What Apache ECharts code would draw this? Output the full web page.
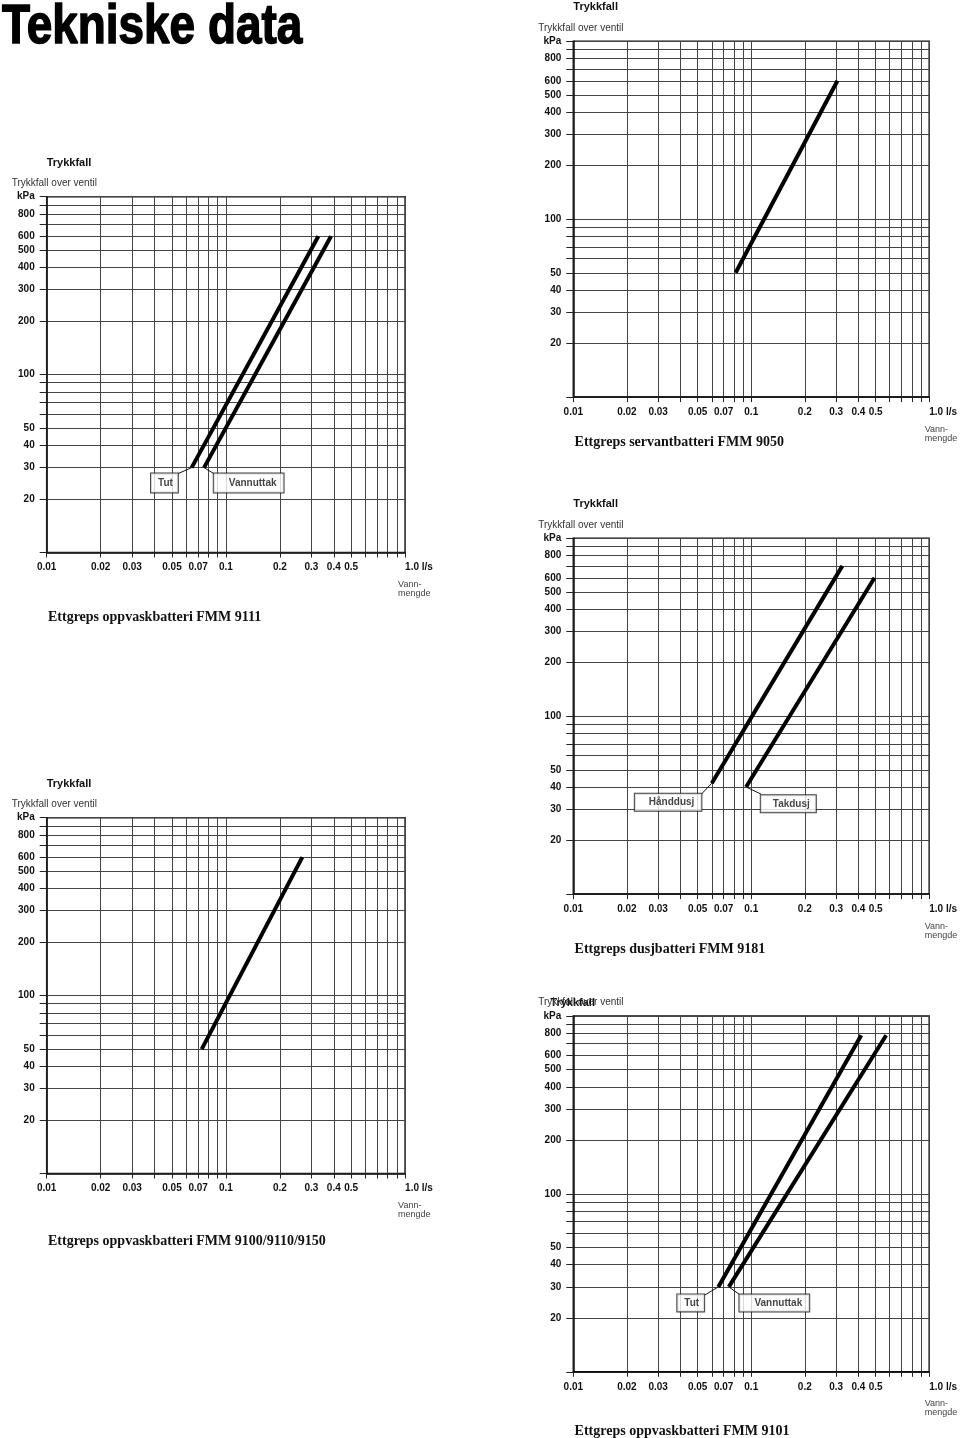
<!DOCTYPE html>
<html>
<head>
<meta charset="utf-8">
<title>Tekniske data</title>
<script src="https://cdn.jsdelivr.net/npm/echarts@6/dist/echarts.min.js"></script>
<style>
  html, body { margin: 0; padding: 0; background: #fff; }
  #chart { width: 960px; height: 1438px; }
</style>
</head>
<body>
<div id="chart"></div>
<script>
// grid / tick values: flow (l/s) and pressure drop (kPa), both log scales
const flowTicks = [0.01, 0.02, 0.03, 0.04, 0.05, 0.06, 0.07, 0.08, 0.09,
  0.1, 0.2, 0.3, 0.4, 0.5, 0.6, 0.7, 0.8, 0.9, 1.0];
const flowLabels = [0.01, 0.02, 0.03, 0.05, 0.07, 0.1, 0.2, 0.3, 0.4, 0.5, 1.0];
const pressureTicks = [10, 20, 30, 40, 50, 60, 70, 80, 90,
  100, 200, 300, 400, 500, 600, 700, 800, 900, 1000];
const pressureLabels = [20, 30, 40, 50, 100, 200, 300, 400, 500, 600, 800, 1000];

// curve ends, [flow l/s, pressure kPa]
const fmm9111Tut = [[0.0644, 30], [0.328, 600]];
const fmm9111Vannuttak = [[0.0755, 30], [0.386, 600]];
const fmm9050 = [[0.0817, 50], [0.305, 600]];
const fmm9181Handdusj = [[0.060, 42], [0.325, 700]];
const fmm9181Takdusj = [[0.0935, 40], [0.493, 600]];
const fmm9100 = [[0.0733, 50], [0.267, 600]];
const fmm9101Tut = [[0.0653, 30], [0.415, 780]];
const fmm9101Vannuttak = [[0.0748, 30], [0.573, 780]];

const SANS = '"Liberation Sans", Arial, Helvetica, sans-serif';
const SERIF = '"Liberation Serif", "Times New Roman", serif';
const W = 358.4, H = 355.8;
const lg = v => Math.log10(v);

// one entry per diagram; notes are the boxed labels with their leader lines
const panels = [
  {
    title: 'Ettgreps oppvaskbatteri FMM 9111', left: 46.7, top: 196.7, titleGap: 65,
    curves: [fmm9111Tut, fmm9111Vannuttak],
    notes: [
      { text: 'Tut', at: [0.0454, 24.6], from: [0.0543, 27.8], to: fmm9111Tut[0], pad: [4, 5, 4, 7] },
      { text: 'Vannuttak', at: [0.134, 24.6], from: [0.0855, 27.8], to: fmm9111Vannuttak[0], pad: [4, 7, 4, 15] }
    ]
  },
  {
    title: 'Ettgreps servantbatteri FMM 9050', left: 573.3, top: 41.3, titleGap: 45,
    curves: [fmm9050], notes: []
  },
  {
    title: 'Ettgreps dusjbatteri FMM 9181', left: 573.3, top: 538.3, titleGap: 55,
    curves: [fmm9181Handdusj, fmm9181Takdusj],
    notes: [
      { text: 'Hånddusj', at: [0.0341, 32.8], from: [0.0525, 36.5], to: fmm9181Handdusj[0], pad: [3, 7, 3, 14] },
      { text: 'Takdusj', at: [0.1615, 32.2], from: [0.1134, 36.5], to: fmm9181Takdusj[0], pad: [3, 6, 3, 12] }
    ]
  },
  {
    title: 'Ettgreps oppvaskbatteri FMM 9100/9110/9150', left: 46.7, top: 817.7, titleGap: 68,
    curves: [fmm9100], notes: []
  },
  {
    title: 'Ettgreps oppvaskbatteri FMM 9101', left: 573.3, top: 1016, titleGap: 60,
    headDx: -23, headDy: -12.7,
    curves: [fmm9101Tut, fmm9101Vannuttak],
    notes: [
      { text: 'Tut', at: [0.0457, 24.4], from: [0.0548, 27.0], to: fmm9101Tut[0], pad: [3, 5, 3, 7] },
      { text: 'Vannuttak', at: [0.1348, 24.4], from: [0.0855, 27.3], to: fmm9101Vannuttak[0], pad: [3, 7, 3, 15] }
    ]
  }
];

const chart = echarts.init(document.getElementById('chart'));
const option = {
  animation: false,
  grid: [], xAxis: [], yAxis: [], series: [],
  graphic: [{
    type: 'text', x: 2, y: 28, scaleX: 0.82, silent: true,
    style: { text: 'Tekniske data', font: 'bold 56px ' + SANS,
      fill: '#000', stroke: '#000', lineWidth: 1.5, align: 'left', verticalAlign: 'middle' }
  }]
};

const txt = (x, y, text, font, fill) => ({
  type: 'text', x: x, y: y, silent: true,
  style: { text: text, font: font, fill: fill || '#111', align: 'left', verticalAlign: 'middle' }
});

panels.forEach((p, i) => {
  const L = p.left, T = p.top, R = L + W, B = T + H;
  option.grid.push({ left: L, top: T, width: W, height: H, show: true,
    borderColor: '#111', borderWidth: 1.5 });
  option.xAxis.push({
    gridIndex: i, type: 'value', min: lg(flowTicks[0]), max: lg(flowTicks[flowTicks.length - 1]),
    axisLine: { show: true, onZero: false, lineStyle: { color: '#111', width: 1.5 } },
    axisTick: { show: true, length: 5, customValues: flowTicks.map(lg), lineStyle: { color: '#222' } },
    axisLabel: {
      customValues: flowLabels.map(lg), margin: 10, alignMaxLabel: 'left',
      fontSize: 10, fontWeight: 'bold', fontFamily: SANS, color: '#111',
      formatter: v => {
        const q = +Math.pow(10, v).toPrecision(2);
        return q >= 1 ? '1.0 l/s' : String(q);
      }
    },
    splitLine: { show: true, lineStyle: { color: '#444', width: 1 } }
  });
  option.yAxis.push({
    gridIndex: i, type: 'value', min: lg(pressureTicks[0]), max: lg(pressureTicks[pressureTicks.length - 1]),
    axisLine: { show: true, onZero: false, lineStyle: { color: '#111', width: 1.5 } },
    axisTick: { show: true, length: 7, customValues: pressureTicks.map(lg), lineStyle: { color: '#222' } },
    axisLabel: {
      customValues: pressureLabels.map(lg), margin: 12,
      fontSize: 10, fontWeight: 'bold', fontFamily: SANS, color: '#111',
      formatter: v => {
        const q = Math.round(Math.pow(10, v));
        return q >= 1000 ? 'kPa' : String(q);
      }
    },
    splitLine: { show: true, lineStyle: { color: '#444', width: 1 } }
  });

  p.curves.forEach(c => {
    option.series.push({
      type: 'line', xAxisIndex: i, yAxisIndex: i, silent: true, z: 5,
      showSymbol: false, symbol: 'none',
      data: c.map(d => [lg(d[0]), lg(d[1])]),
      lineStyle: { color: '#000', width: 4, cap: 'butt' }
    });
  });

  p.notes.forEach(n => {
    option.series.push({
      type: 'line', xAxisIndex: i, yAxisIndex: i, silent: true, z: 6,
      showSymbol: false, symbol: 'none',
      data: [n.from, n.to].map(d => [lg(d[0]), lg(d[1])]),
      lineStyle: { color: '#111', width: 1 }
    });
    option.series.push({
      type: 'scatter', xAxisIndex: i, yAxisIndex: i, silent: true, z: 7,
      symbolSize: 1, itemStyle: { color: 'rgba(0,0,0,0)' },
      data: [[lg(n.at[0]), lg(n.at[1])]],
      label: {
        show: true, position: 'inside', formatter: n.text,
        fontSize: 10, fontWeight: 'bold', fontFamily: SANS, color: '#111', lineHeight: 11,
        backgroundColor: '#fff', borderColor: '#111', borderWidth: 1, padding: n.pad
      }
    });
  });

  option.graphic.push(
    txt(L + (p.headDx || 0), T + (p.headDy || -34), 'Trykkfall', 'bold 11px ' + SANS, '#111'),
    txt(L - 35, T - 13.5, 'Trykkfall over ventil', '10px ' + SANS, '#333'),
    txt(R - 7, B + 32, 'Vann-', '9px ' + SANS, '#444'),
    txt(R - 7, B + 41, 'mengde', '9px ' + SANS, '#444'),
    txt(L + 1.3, B + p.titleGap, p.title, 'bold 14px ' + SERIF, '#111')
  );
});

chart.setOption(option);
</script>
</body>
</html>
